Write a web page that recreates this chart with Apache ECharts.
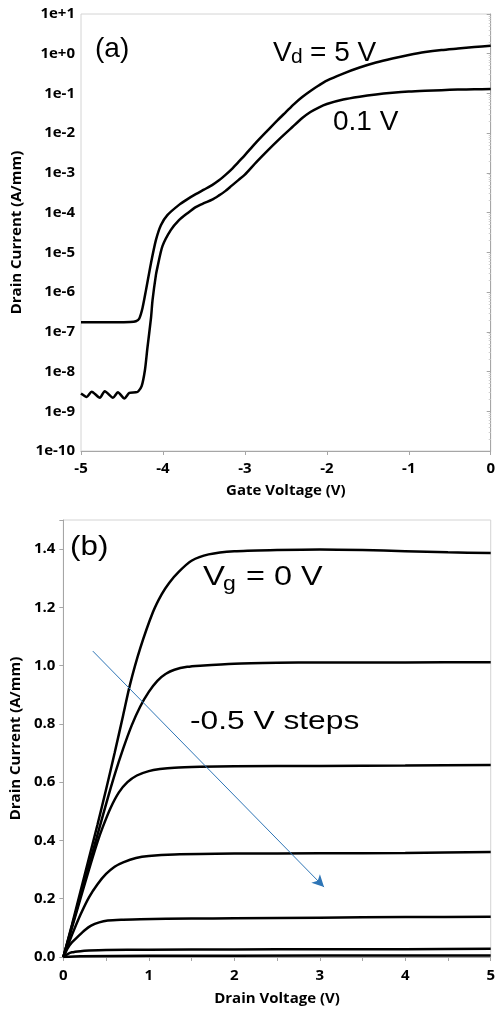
<!DOCTYPE html>
<html>
<head>
<meta charset="utf-8">
<script src="https://cdn.jsdelivr.net/npm/echarts@6/dist/echarts.min.js"></script>
<style>
  html, body { margin: 0; padding: 0; background: #fff; }
  #chart { width: 498px; height: 1011px; }
</style>
</head>
<body>
<div id="chart"></div>
<script>
// (a) transfer curves, [gate voltage, drain current A/mm]
var transferVd5 = [
    [-5, 1.75e-7], [-4.6, 1.75e-7], [-4.4, 1.77e-7], [-4.33, 1.85e-7], [-4.29, 2.14e-7],
    [-4.25, 3.93e-7], [-4.207, 1.12e-6], [-4.146, 5.35e-6], [-4.086, 2.03e-5], [-4.025, 4.84e-5],
    [-3.946, 8.65e-5], [-3.8, 1.59e-4], [-3.7, 2.19e-4], [-3.6, 2.92e-4], [-3.5, 3.79e-4],
    [-3.4, 4.93e-4], [-3.32, 6.4e-4], [-3.24, 8.81e-4], [-3.16, 1.25e-3], [-3.08, 1.87e-3],
    [-3.0, 2.81e-3], [-2.87, 5.63e-3], [-2.73, 1.13e-2], [-2.6, 2.14e-2], [-2.5, 3.4e-2],
    [-2.4, 5.41e-2], [-2.3, 8.11e-2], [-2.2, 0.115], [-2.1, 0.158], [-2.0, 0.211],
    [-1.8, 0.317], [-1.6, 0.449], [-1.4, 0.6], [-1.2, 0.757], [-1.0, 0.927],
    [-0.8, 1.1], [-0.6, 1.24], [-0.4, 1.35], [-0.2, 1.47], [0, 1.59]
];
var transferVd01 = [
    [-5, 2.8e-9], [-4.93, 2.3e-9], [-4.87, 3.1e-9], [-4.77, 2.2e-9], [-4.71, 3.2e-9],
    [-4.61, 2.2e-9], [-4.55, 3.0e-9], [-4.47, 2.1e-9], [-4.41, 2.9e-9], [-4.33, 3.0e-9],
    [-4.3, 3.19e-9], [-4.26, 4.27e-9], [-4.22, 1.08e-8], [-4.19, 3.86e-8], [-4.146, 2.2e-7],
    [-4.127, 6.25e-7], [-4.086, 2.67e-6], [-4.066, 4.31e-6], [-4.006, 1.43e-5], [-3.905, 3.62e-5],
    [-3.804, 6.47e-5], [-3.7, 9.7e-5], [-3.6, 1.38e-4], [-3.5, 1.73e-4], [-3.4, 2.12e-4],
    [-3.32, 2.68e-4], [-3.24, 3.48e-4], [-3.16, 4.79e-4], [-3.08, 6.59e-4], [-3.0, 9.06e-4],
    [-2.86, 1.87e-3], [-2.717, 3.75e-3], [-2.58, 7.1e-3], [-2.42, 1.43e-2], [-2.3, 2.4e-2],
    [-2.2, 3.4e-2], [-2.1, 4.42e-2], [-2.0, 5.41e-2], [-1.8, 7.02e-2], [-1.6, 8.26e-2],
    [-1.4, 9.38e-2], [-1.2, 0.1035], [-1.0, 0.1117], [-0.8, 0.117], [-0.6, 0.121],
    [-0.4, 0.125], [-0.2, 0.127], [0, 0.129]
];

// (b) output curves, [drain voltage, drain current A/mm]
var outputVg0 = [
    [0, 0], [0.1, 0.11], [0.2, 0.225], [0.3, 0.34], [0.4, 0.455], [0.5, 0.575],
    [0.6, 0.7], [0.7, 0.83], [0.78, 0.935], [0.9, 1.06], [1.05, 1.185], [1.15, 1.245],
    [1.24, 1.285], [1.35, 1.322], [1.5, 1.36], [1.7, 1.382], [2.0, 1.393], [2.5, 1.397],
    [3.0, 1.399], [3.5, 1.397], [4.0, 1.393], [4.5, 1.389], [5, 1.387]
];
var outputVgM05 = [
    [0, 0], [0.1, 0.105], [0.2, 0.21], [0.3, 0.315], [0.4, 0.42], [0.5, 0.525],
    [0.6, 0.625], [0.7, 0.715], [0.8, 0.795], [0.9, 0.86], [1.0, 0.91], [1.1, 0.948],
    [1.2, 0.972], [1.3, 0.986], [1.45, 0.996], [1.6, 1.0], [2.0, 1.007], [2.5, 1.01],
    [3, 1.011], [4, 1.011], [5, 1.012]
];
var outputVgM10 = [
    [0, 0], [0.1, 0.1], [0.2, 0.2], [0.3, 0.3], [0.4, 0.395], [0.46, 0.445],
    [0.55, 0.51], [0.65, 0.565], [0.75, 0.6], [0.86, 0.623], [1.0, 0.638],
    [1.13, 0.645], [1.3, 0.65], [1.6, 0.653], [2, 0.655], [3, 0.656], [4, 0.657], [5, 0.659]
];
var outputVgM15 = [
    [0, 0], [0.1, 0.075], [0.2, 0.145], [0.3, 0.205], [0.4, 0.25], [0.5, 0.285],
    [0.6, 0.31], [0.7, 0.325], [0.85, 0.34], [1.0, 0.347], [1.3, 0.352], [2, 0.355],
    [3, 0.356], [4, 0.357], [5, 0.36]
];
var outputVgM20 = [
    [0, 0], [0.05, 0.03], [0.1, 0.05], [0.17, 0.07], [0.25, 0.092], [0.325, 0.108],
    [0.42, 0.119], [0.52, 0.125], [0.7, 0.128], [0.9, 0.13], [1.5, 0.132], [2, 0.133],
    [3, 0.135], [4, 0.137], [5, 0.138]
];
var outputVgM25 = [
    [0, 0], [0.05, 0.01], [0.1, 0.016], [0.2, 0.02], [0.3, 0.022], [0.5, 0.024],
    [1, 0.025], [2, 0.026], [3, 0.027], [4, 0.027], [5, 0.028]
];
var outputVgM30 = [
    [0, 0], [0.2, 0.003], [1, 0.004], [3, 0.005], [5, 0.005]
];

// arrow "-0.5 V steps", [drain voltage, drain current]
var arrowStart = [0.345, 1.05];
var arrowEnd = [3.05, 0.24];

var chart = echarts.init(document.getElementById('chart'));

var tickFont = { color: '#000', fontFamily: 'Open Sans', fontWeight: 'bold', fontSize: 15 };
var nameFont = { color: '#000', fontFamily: 'Open Sans', fontWeight: 'bold', fontSize: 15 };
var axisGray = '#a6a6a6';
var noteFont = 'Liberation Sans';

function curve(data, xi, yi) {
    return {
        type: 'line',
        xAxisIndex: xi,
        yAxisIndex: yi,
        data: data,
        showSymbol: false,
        smooth: 0.25,
        lineStyle: { color: '#000', width: 2.5 },
        silent: true
    };
}

// annotation text, x/y = left edge / vertical middle
function noteAt(x, y, text, size, sx) {
    return {
        type: 'text',
        x: x,
        y: y,
        scaleX: sx || 1,
        style: {
            text: text,
            fontFamily: noteFont,
            fontSize: size,
            fill: '#000',
            verticalAlign: 'middle',
            align: 'left'
        }
    };
}

var series = [
    curve(transferVd5, 0, 0),
    curve(transferVd01, 0, 0),
    curve(outputVg0, 1, 1),
    curve(outputVgM05, 1, 1),
    curve(outputVgM10, 1, 1),
    curve(outputVgM15, 1, 1),
    curve(outputVgM20, 1, 1),
    curve(outputVgM25, 1, 1),
    curve(outputVgM30, 1, 1)
];
series[2].markLine = {
    silent: true,
    symbol: ['none', 'arrow'],
    symbolSize: [9, 12],
    label: { show: false },
    lineStyle: { color: '#2e75b6', width: 1, type: 'solid' },
    data: [[{ coord: arrowStart }, { coord: arrowEnd }]]
};

var option = {
    backgroundColor: '#fff',
    animation: false,
    grid: [
        { left: 81, right: 3, top: 14, height: 437, show: true, borderColor: '#d4d4d4', borderWidth: 1 },
        { left: 61, right: 3, top: 520, height: 437, show: true, borderColor: '#d4d4d4', borderWidth: 1 }
    ],
    xAxis: [
        {
            gridIndex: 0,
            type: 'value',
            min: -5,
            max: 0,
            interval: 1,
            name: 'Gate Voltage (V)',
            nameLocation: 'middle',
            nameGap: 32,
            nameTextStyle: nameFont,
            axisLine: { lineStyle: { color: axisGray } },
            axisTick: { length: 4, lineStyle: { color: axisGray } },
            axisLabel: Object.assign({ margin: 10 }, tickFont),
            splitLine: { show: false }
        },
        {
            gridIndex: 1,
            type: 'value',
            min: 0,
            max: 5,
            interval: 1,
            name: 'Drain Voltage (V)',
            nameLocation: 'middle',
            nameGap: 34,
            nameTextStyle: nameFont,
            axisLine: { lineStyle: { color: axisGray } },
            axisTick: { length: 4, lineStyle: { color: axisGray } },
            minorTick: { show: true, splitNumber: 2, length: 4, lineStyle: { color: axisGray } },
            axisLabel: Object.assign({ margin: 11 }, tickFont),
            splitLine: { show: false }
        }
    ],
    yAxis: [
        {
            gridIndex: 0,
            type: 'log',
            logBase: 10,
            min: 1e-10,
            max: 10,
            interval: 1,
            splitNumber: 11,
            name: 'Drain Current (A/mm)',
            nameLocation: 'middle',
            nameGap: 56,
            nameTextStyle: nameFont,
            axisLine: { show: true, lineStyle: { color: axisGray } },
            axisTick: { show: true, length: 4, lineStyle: { color: axisGray } },
            minorTick: { show: true, splitNumber: 9, length: 2, lineStyle: { color: '#d0d0d0' } },
            axisLabel: Object.assign({
                margin: 6,
                formatter: function (v) {
                    var e = Math.round(Math.log10(v));
                    return '1e' + (e >= 0 ? '+' : '') + e;
                }
            }, tickFont),
            splitLine: { show: false }
        },
        {
            gridIndex: 1,
            type: 'value',
            min: 0,
            max: 1.5,
            interval: 0.2,
            name: 'Drain Current (A/mm)',
            nameLocation: 'middle',
            nameGap: 36,
            nameTextStyle: nameFont,
            axisLine: { show: true, lineStyle: { color: axisGray } },
            axisTick: { show: true, length: 4, lineStyle: { color: axisGray } },
            axisLabel: Object.assign({
                margin: 8,
                formatter: function (v) {
                    return v > 1.45 ? '' : v.toFixed(1);
                }
            }, tickFont),
            splitLine: { show: false }
        }
    ],
    series: series,
    graphic: [
        noteAt(95, 49, '(a)', 28),
        noteAt(273, 53, 'V', 28),
        noteAt(291, 57, 'd', 21),
        noteAt(310, 53, '= 5 V', 28),
        noteAt(333, 122, '0.1 V', 28),
        noteAt(70, 547, '(b)', 28, 1.12),
        noteAt(203, 578, 'V', 27, 1.22),
        noteAt(223, 584, 'g', 21, 1.1),
        noteAt(246, 578, '= 0 V', 27, 1.2),
        noteAt(190, 722, '-0.5 V steps', 26, 1.22)
    ]
};

chart.setOption(option);
</script>
</body>
</html>
